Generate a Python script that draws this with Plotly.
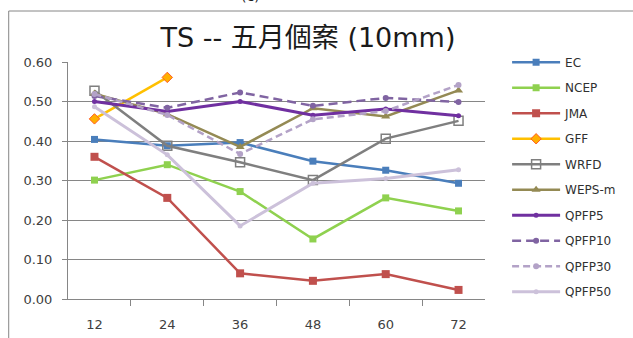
import plotly.graph_objects as go

# Forecast lead times (hours) and TS scores for each model
lead_hours = ["12", "24", "36", "48", "60", "72"]

ec = [0.404, 0.388, 0.396, 0.349, 0.326, 0.293]
ncep = [0.301, 0.340, 0.272, 0.152, 0.256, 0.223]
jma = [0.360, 0.256, 0.065, 0.046, 0.063, 0.023]
gff = [0.456, 0.561, None, None, None, None]
wrfd = [0.527, 0.388, 0.346, 0.301, 0.406, 0.451]
weps_m = [0.520, 0.468, 0.385, 0.483, 0.462, 0.528]
qpfp5 = [0.500, 0.475, 0.500, 0.465, 0.481, 0.464]
qpfp10 = [0.514, 0.484, 0.523, 0.489, 0.509, 0.499]
qpfp30 = [0.519, 0.466, 0.367, 0.455, 0.476, 0.542]
qpfp50 = [0.487, 0.365, 0.185, 0.293, 0.305, 0.327]

y_ticks = [0.0, 0.1, 0.2, 0.3, 0.4, 0.5, 0.6]

FONT = "DejaVu Sans, Noto Sans CJK TC, sans-serif"

series = [
    ("EC", ec, dict(color="#4A7EBB", width=2.5), dict(symbol="square", size=7, color="#4A7EBB")),
    ("NCEP", ncep, dict(color="#8FD14F", width=2.5), dict(symbol="square", size=7, color="#8FD14F")),
    ("JMA", jma, dict(color="#C0504D", width=2.5), dict(symbol="square", size=8, color="#C0504D")),
    ("GFF", gff, dict(color="#FFC000", width=2.5),
     dict(symbol="diamond", size=8, color="#FFB000", line=dict(color="#FF5A1F", width=1))),
    ("WRFD", wrfd, dict(color="#7F7F7F", width=2.5),
     dict(symbol="square-open", size=9, color="#7F7F7F", line=dict(width=1.5))),
    ("WEPS-m", weps_m, dict(color="#948A54", width=2.5), dict(symbol="triangle-up", size=8, color="#948A54")),
    ("QPFP5", qpfp5, dict(color="#7030A0", width=3), dict(symbol="circle", size=5, color="#7030A0")),
    ("QPFP10", qpfp10, dict(color="#8064A2", width=2.5, dash="9px,5px"), dict(symbol="circle", size=6, color="#8064A2")),
    ("QPFP30", qpfp30, dict(color="#B3A2C7", width=2.5, dash="7px,4px"), dict(symbol="circle", size=6, color="#B3A2C7")),
    ("QPFP50", qpfp50, dict(color="#CCC1DA", width=3), dict(symbol="circle", size=5, color="#CCC1DA")),
]

fig = go.Figure()
for name, vals, line, marker in series:
    fig.add_trace(go.Scatter(
        x=lead_hours, y=vals, name=name, mode="lines+markers",
        line=line, marker=marker, legendgroup=name, connectgaps=False,
    ))

fig.update_layout(
    width=633, height=338,
    margin=dict(l=68, r=143, t=62, b=39),
    paper_bgcolor="white", plot_bgcolor="white",
    font=dict(family=FONT, size=12, color="#404040"),
    title=dict(
        text="TS -- 五月個案 (10mm)", xref="container", yref="container",
        x=308 / 633, y=1 - 38 / 338, xanchor="center", yanchor="middle",
        font=dict(family=FONT, size=27, color="#1a1a1a"),
    ),
    showlegend=True,
    legend=dict(
        x=1.053, y=1.06, xanchor="left", yanchor="top",
        font=dict(family=FONT, size=12, color="#303030"),
        traceorder="grouped", tracegroupgap=6.5, itemwidth=48,
        bgcolor="rgba(0,0,0,0)", maxheight=330,
    ),
    xaxis=dict(
        type="category", showgrid=False, showline=True, linecolor="#868686", linewidth=1,
        ticks="outside", tickson="boundaries", ticklen=6, tickcolor="#868686",
        tickfont=dict(size=13, color="#404040"), zeroline=False, ticklabelstandoff=13,
        automargin=False,
    ),
    yaxis=dict(
        range=[0, 0.6], tickvals=y_ticks, tickformat=".2f",
        showgrid=True, gridcolor="#868686", gridwidth=1,
        showline=True, linecolor="#868686", linewidth=1,
        ticks="outside", ticklen=5, tickcolor="#868686",
        tickfont=dict(size=13, color="#404040"), zeroline=False, ticklabelstandoff=7,
        automargin=False,
    ),
)

# Chart frame around the whole figure area
fig.add_shape(type="rect", xref="paper", yref="paper",
              x0=(8 - 68) / 422, x1=(645 - 68) / 422,
              y0=(299 - 350) / 237, y1=(299 - 11) / 237,
              line=dict(color="#868686", width=1), fillcolor="rgba(0,0,0,0)", layer="below")

# Panel label above the frame
fig.add_annotation(text="(c)", xref="paper", yref="paper",
                   x=(253 - 68) / 422, y=(299 + 4) / 237, xanchor="center", yanchor="middle",
                   showarrow=False, font=dict(family=FONT, size=14, color="#1a1a1a"))

fig.write_html("out.html")
